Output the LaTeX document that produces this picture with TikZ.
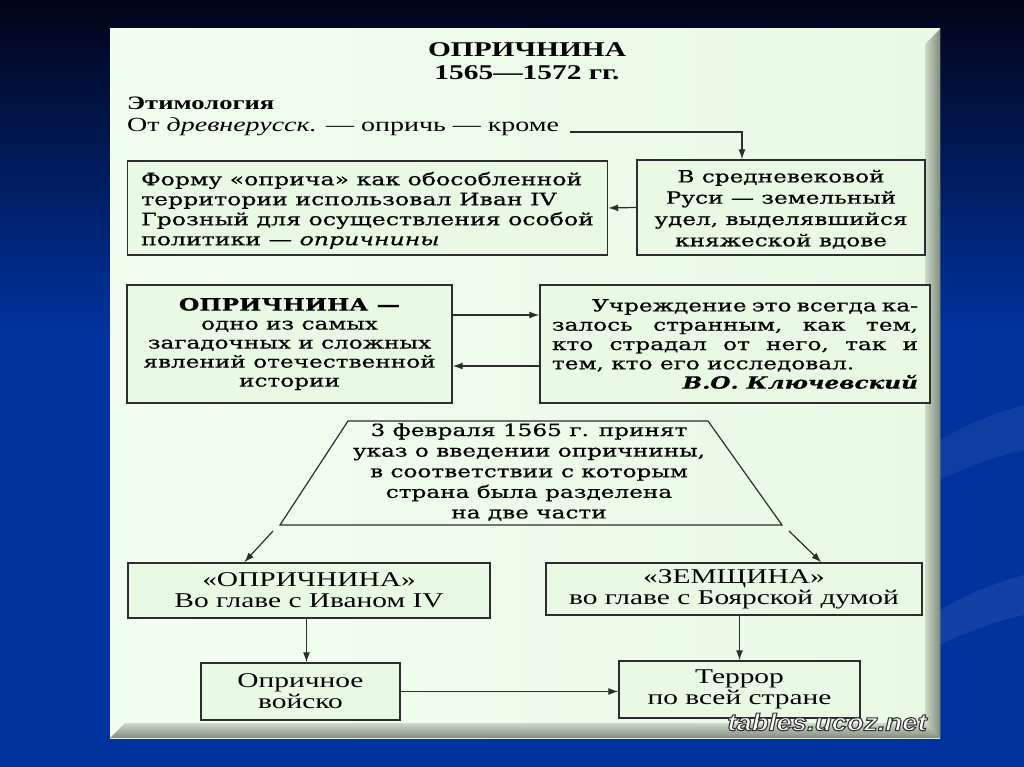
\documentclass[tikz,border=0pt]{standalone}
\usepackage{fontspec}
\setmainfont{Liberation Serif}
\newfontfamily\tms[FakeStretch=1.4]{Liberation Serif}
\newfontfamily\sch[FakeStretch=1.38,FakeBold=0.6]{DejaVu Serif}
\newfontfamily\wmfont[FakeStretch=1.15]{Liberation Sans}
\usetikzlibrary{arrows.meta,calc}
\definecolor{bgtop}{RGB}{2,4,24}
\definecolor{bgblue}{RGB}{0,50,158}
\definecolor{panel}{RGB}{232,250,228}
\definecolor{panelL}{RGB}{242,255,240}
\definecolor{ink}{RGB}{45,45,45}
\definecolor{bev1}{RGB}{205,218,200}
\definecolor{bev2}{RGB}{128,140,126}
\begin{document}
\begin{tikzpicture}[x=1pt,y=-1pt,
  box/.style={draw=ink, line width=1.4pt, fill=panel, inner sep=0pt, align=center},
  arr/.style={draw=ink, line width=1.2pt, -{Latex[length=10pt,width=7pt]}},
  tmsf/.style={font=\tms\fontsize{21}{21}\selectfont},
  txt/.style={inner sep=0pt, text=black}
]
\useasboundingbox (0,0) rectangle (1024,767);
% background
\fill[bgblue] (0,0) rectangle (1024,767);
\shade[top color=bgtop, bottom color=bgblue] (0,0) rectangle (1024,330);
\fill[white, opacity=0.06] (940,440) .. controls (975,420) and (1005,410) .. (1024,405) -- (1024,450) .. controls (1000,455) and (970,465) .. (940,480) -- cycle;
\fill[white, opacity=0.07] (940,610) .. controls (975,590) and (1005,580) .. (1024,575) -- (1024,615) .. controls (1000,620) and (970,630) .. (940,645) -- cycle;
% panel
\shade[left color=panelL, right color=panel] (110,29) rectangle (940,738);
\shade[left color=bev1, right color=bev2] (925,44) -- (940,29) -- (940,738) -- (925,723) -- cycle;
\shade[top color=bev1, bottom color=bev2] (110,738) -- (125,723) -- (925,723) -- (940,738) -- cycle;

% title
\node[txt, align=center, font=\tms\bfseries\fontsize{21}{23}\selectfont] (title) at (527,61)
  {ОПРИЧНИНА\\1565—1572 гг.};
\node[txt, anchor=west, align=left, font=\tms\fontsize{20}{22}\selectfont] (etym) at (127,116)
  {{\bfseries\fontsize{19}{22}\selectfont Этимология}\\От \textit{древнерусск.} — опричь — кроме};
\coordinate (etend) at (570,132);

% boxes
\node[box, font=\sch\fontsize{17.1}{20}\selectfont, minimum width=480pt, minimum height=94pt, align=left] (A) at (367.5,208)
  {\rule{0pt}{18pt}Форму «оприча» как обособленной\\территории использовал Иван IV\\Грозный для осуществления особой\\политики — \textit{опричнины}};
\node[box, font=\sch\fontsize{16.8}{21.3}\selectfont, minimum width=288pt, minimum height=95pt] (B) at (781,207.5)
  {\rule{0pt}{16pt}В средневековой\\Руси — земельный\\удел, выделявшийся\\княжеской вдове};
\node[box, font=\sch\fontsize{16.8}{19}\selectfont, minimum width=325pt, minimum height=118pt] (C) at (289.5,344)
  {\textbf{\fontsize{17}{19}\selectfont ОПРИЧНИНА —}\\одно из самых\\загадочных и сложных\\явлений отечественной\\истории};
\node[box, font=\sch\fontsize{16.8}{19.3}\selectfont, minimum width=390pt, minimum height=118pt] (D) at (735,344)
  {\hbox to 366pt{\hspace{40pt}Учреждение\hfill это\hfill всегда\hfill ка-}\\
   \hbox to 366pt{залось\hfill странным,\hfill как\hfill тем,}\\
   \hbox to 366pt{кто\hfill страдал\hfill от\hfill него,\hfill так\hfill и}\\
   \hbox to 366pt{тем, кто его исследовал.\hfill}\\
   \hbox to 366pt{\hfill\bfseries\itshape В.О. Ключевский}};

% trapezoid
\coordinate (t1) at (348,421);
\coordinate (t2) at (708,421);
\coordinate (t3) at (782,525);
\coordinate (t4) at (280,525);
\draw[draw=ink, line width=1.2pt] (t1) -- (t2) -- (t3) -- (t4) -- cycle;
\node[txt, align=center, font=\sch\fontsize{16.8}{20.6}\selectfont] (T) at (529,472)
  {3 февраля 1565 г. принят\\указ о введении опричнины,\\в соответствии с которым\\страна была разделена\\на две части};
\coordinate (tzl) at (273,531);
\coordinate (tzr) at (789,531);

\node[box, tmsf, minimum width=362pt, minimum height=55pt] (E) at (309,590.5)
  {«ОПРИЧНИНА»\\Во главе с Иваном IV};
\node[box, tmsf, minimum width=376pt, minimum height=52pt] (F) at (734,589)
  {«ЗЕМЩИНА»\\во главе с Боярской думой};
\node[box, tmsf, minimum width=199pt, minimum height=57pt] (G) at (300.5,691.5)
  {Опричное\\войско};
\node[box, tmsf, minimum width=241pt, minimum height=57pt] (H) at (739.5,689.5)
  {Террор\\по всей стране};

% connectors
\coordinate (bin) at ([xshift=-39pt]B.north);
\draw[arr] (etend) -- (etend -| bin) -- (bin);
\draw[arr] (B.west) -- (A.east);
\draw[arr] ([yshift=29pt]C.east) -- ([yshift=29pt]D.west);
\draw[arr] ([yshift=-22pt]D.west) -- ([yshift=-22pt]C.east);
\draw[arr] (tzl) -- ([xshift=117pt]E.north west);
\draw[arr] (tzr) -- ([xshift=276pt]F.north west);
\coordinate (gin) at ([xshift=6pt]G.north);
\draw[arr] (E.south -| gin) -- (gin);
\draw[arr] (F.south -| H.north) -- (H.north);
\draw[arr] (G.east) -- (G.east -| H.west);

% watermark (white letters with a dark outline)
\node[txt, font=\wmfont\bfseries\itshape\fontsize{24}{24}\selectfont] (wm) at (827,722)
  {\textcolor{white}{\special{pdf:literal direct 2 Tr 1.1 w 0.2 0.2 0.2 RG}tables.ucoz.net\special{pdf:literal direct 0 Tr}}};
\end{tikzpicture}
\end{document}
